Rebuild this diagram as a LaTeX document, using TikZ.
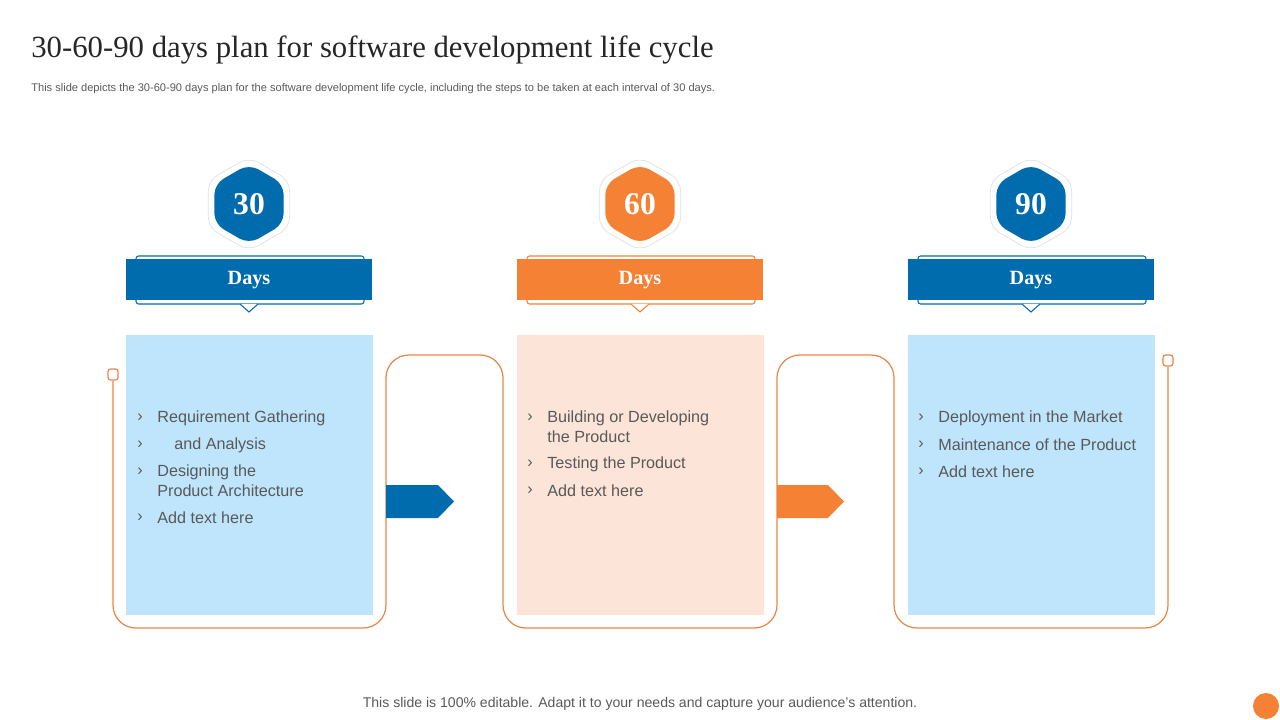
\documentclass[tikz,border=0pt]{standalone}
\usepackage{fontspec}
\setmainfont{Liberation Sans}
\newfontfamily\serifhead{Liberation Serif}
\definecolor{planblue}{HTML}{006BAD}
\definecolor{planorange}{HTML}{F58135}
\definecolor{paleblue}{HTML}{BEE5FB}
\definecolor{palepeach}{HTML}{FCE5D8}
\definecolor{lineorange}{HTML}{E8874A}
\definecolor{textgrey}{HTML}{595959}
\tikzset{
  bullettext/.style={anchor=west, inner sep=0pt, text=textgrey, font=\fontsize{9.2}{11}\selectfont},
  hexnum/.style={text=white, font=\serifhead\bfseries\fontsize{18}{20}\selectfont},
  daystext/.style={text=white, font=\serifhead\bfseries\fontsize{11.5}{13}\selectfont}
}
\begin{document}
\begin{tikzpicture}[x=0.2mm, y=-0.2mm]
\useasboundingbox (0,0) rectangle (1280,720);
% heading
\node[anchor=west, inner sep=0pt, text=black!85, font=\serifhead\fontsize{17.5}{20}\selectfont] (title) at (31,50) {30-60-90 days plan for software development life cycle};
\node[anchor=west, inner sep=0pt, text=textgrey, font=\fontsize{6.3}{8}\selectfont] (subtitle) at (31,89) {This slide depicts the 30-60-90 days plan for the software development life cycle, including the steps to be taken at each interval of 30 days.};
% connecting line
\draw[lineorange, line width=0.7pt, rounded corners=13] (113,381) -- (113,628) -- (386,628) -- (386,355) -- (503,355) -- (503,628) -- (777,628) -- (777,355) -- (894,355) -- (894,628) -- (1168,628) -- (1168,367);
\draw[lineorange, line width=0.7pt, fill=white, rounded corners=1.5] (108,369) rectangle (118,380);
\draw[lineorange, line width=0.7pt, fill=white, rounded corners=1.5] (1163,355) rectangle (1173,366);
% columns
\foreach \cx/\num/\col/\pale in {249/30/planblue/paleblue, 640/60/planorange/palepeach, 1031/90/planblue/paleblue}{
  % hexagon badge
  \draw[black!12, fill=white, rounded corners=6] (\cx,204) +(90:47) -- +(150:47) -- +(210:47) -- +(270:47) -- +(330:47) -- +(30:47) -- cycle;
  \fill[\col, rounded corners=6] (\cx,204) +(90:40) -- +(150:40) -- +(210:40) -- +(270:40) -- +(330:40) -- +(30:40) -- cycle;
  \node[hexnum] (num\num) at (\cx,204) {\num};
  % banner
  \draw[\col, line width=0.6pt, rounded corners=1.5] (\cx-113,256) rectangle (\cx+115,304);
  \draw[\col, line width=0.6pt, fill=white] (\cx-9,304) -- (\cx,312) -- (\cx+9,304);
  \fill[\col] (\cx-123,259) rectangle (\cx+123,300);
  \node[daystext] (days\num) at (\cx,280) {Days};
  % content box
  \fill[\pale] (\cx-123,335) rectangle (\cx+124,615);
}
% arrows
\fill[planblue] (386,485) -- (438,485) -- (454,501.5) -- (438,518) -- (386,518) -- cycle;
\fill[planorange] (777,485) -- (828,485) -- (844,501.5) -- (828,518) -- (777,518) -- cycle;
% bullets, 30 days
\foreach \y/\txt in {418/Requirement Gathering, 472/Designing the, 518/Add text here}{
  \node[bullettext] at (137,\y) {›};
  \node[bullettext] at (157,\y) {\txt};
}
\node[bullettext] at (137,445) {›};
\node[bullettext] at (174,445) {and Analysis};
\node[bullettext] at (157,491) {Product Architecture};
% bullets, 60 days
\foreach \y/\txt in {418/Building or Developing, 464/Testing the Product, 491/Add text here}{
  \node[bullettext] at (527,\y) {›};
  \node[bullettext] at (547,\y) {\txt};
}
\node[bullettext] at (547,437) {the Product};
% bullets, 90 days
\foreach \y/\txt in {418/Deployment in the Market, 445/Maintenance of the Product, 472/Add text here}{
  \node[bullettext] at (918,\y) {›};
  \node[bullettext] at (938,\y) {\txt};
}
% footer
\node[text=textgrey, font=\fontsize{8}{10}\selectfont] (footer) at (640,704) {This slide is 100\% editable. Adapt it to your needs and capture your audience's attention.};
\fill[planorange] (1266,706) circle (13);
\end{tikzpicture}
\end{document}
